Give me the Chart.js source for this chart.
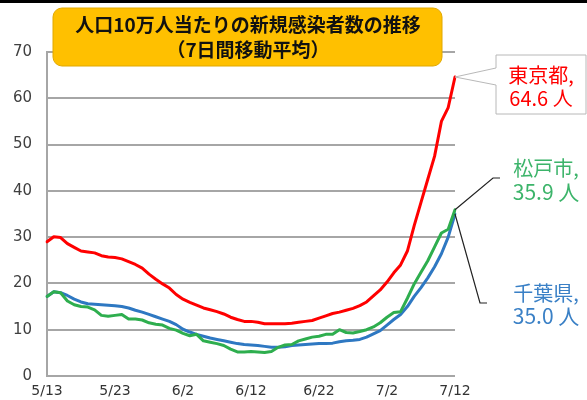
<!DOCTYPE html>
<html>
<head>
<meta charset="utf-8">
<script src="https://cdn.jsdelivr.net/npm/chart.js@4/dist/chart.umd.min.js"></script>
<style>
  html, body { margin: 0; padding: 0; background: #fff; }
  #wrap { width: 587px; height: 400px; position: relative; }
</style>
</head>
<body>
<div id="wrap"><canvas id="chart" width="587" height="400"></canvas></div>
<script>
// 日付 (5/13 - 7/12)
const days = [
  '5/13','5/14','5/15','5/16','5/17','5/18','5/19','5/20','5/21','5/22',
  '5/23','5/24','5/25','5/26','5/27','5/28','5/29','5/30','5/31','6/1',
  '6/2','6/3','6/4','6/5','6/6','6/7','6/8','6/9','6/10','6/11',
  '6/12','6/13','6/14','6/15','6/16','6/17','6/18','6/19','6/20','6/21',
  '6/22','6/23','6/24','6/25','6/26','6/27','6/28','6/29','6/30','7/1',
  '7/2','7/3','7/4','7/5','7/6','7/7','7/8','7/9','7/10','7/11',
  '7/12'
];

// 人口10万人当たり新規感染者数 (7日間移動平均)
const tokyo = [
  29.0, 30.1, 29.9, 28.6, 27.8, 27.0, 26.8, 26.6, 26.0, 25.7,
  25.6, 25.3, 24.7, 24.1, 23.3, 22.0, 20.9, 19.9, 19.0, 17.6,
  16.6, 15.9, 15.3, 14.7, 14.3, 13.9, 13.4, 12.7, 12.2, 11.8,
  11.8, 11.6, 11.3, 11.3, 11.3, 11.3, 11.4, 11.6, 11.8, 12.0,
  12.5, 13.0, 13.5, 13.8, 14.2, 14.6, 15.2, 16.0, 17.3, 18.6,
  20.3, 22.3, 24.0, 27.0, 32.5, 37.5, 42.5, 47.5, 55.0, 58.0,
  64.6
];
const matsudo = [
  17.2, 18.2, 18.0, 16.2, 15.4, 15.0, 14.9, 14.3, 13.1, 12.9,
  13.1, 13.3, 12.3, 12.3, 12.1, 11.5, 11.2, 11.0, 10.3, 9.9,
  9.2, 8.7, 9.0, 7.6, 7.3, 7.0, 6.6, 5.8, 5.2, 5.2,
  5.3, 5.2, 5.1, 5.3, 6.2, 6.7, 6.8, 7.6, 8.0, 8.4,
  8.6, 9.0, 9.0, 10.0, 9.4, 9.3, 9.6, 10.0, 10.6, 11.5,
  12.7, 13.7, 13.9, 16.8, 19.9, 22.4, 24.9, 27.9, 30.9, 31.7,
  35.9
];
const chiba = [
  17.2, 18.2, 18.0, 17.4, 16.6, 16.0, 15.6, 15.5, 15.4, 15.3,
  15.2, 15.0, 14.7, 14.2, 13.8, 13.3, 12.8, 12.3, 11.8, 11.1,
  10.1, 9.5, 9.0, 8.6, 8.2, 7.9, 7.6, 7.3, 7.0, 6.8,
  6.7, 6.6, 6.4, 6.2, 6.2, 6.3, 6.6, 6.7, 6.8, 6.9,
  7.0, 7.0, 7.1, 7.4, 7.6, 7.7, 7.9, 8.4, 9.1, 9.8,
  11.0, 12.2, 13.3, 15.0, 17.2, 19.1, 21.2, 23.6, 26.4, 30.0,
  35.0
];

const yTicks = [0, 10, 20, 30, 40, 50, 60, 70];
const titleLines = ['人口10万人当たりの新規感染者数の推移', '（7日間移動平均）'];
const calloutText = {
  tokyo: ['東京都,', '64.6 人'],
  matsudo: ['松戸市,', '35.9 人'],
  chiba: ['千葉県,', '35.0 人']
};

const RED = '#ff0000';
const GREEN = '#2eae4e';
const BLUE = '#2e78c2';
const JP = '"Noto Sans CJK JP", "Noto Sans", sans-serif';

const overlay = {
  id: 'overlay',
  beforeDraw(chart) {
    const ctx = chart.ctx;
    ctx.save();
    ctx.fillStyle = '#000';
    ctx.fillRect(0, 0, chart.width, 3);
    ctx.restore();
  },
  afterDatasetsDraw(chart) {
    const ctx = chart.ctx;
    const xs = chart.scales.x, ys = chart.scales.y;
    const last = days.length - 1;
    const ex = xs.getPixelForValue(last);
    const tY = ys.getPixelForValue(tokyo[last]);
    const mY = ys.getPixelForValue(matsudo[last]);
    const cY = ys.getPixelForValue(chiba[last]);

    ctx.save();
    // タイトルボックス
    ctx.beginPath();
    ctx.roundRect(53, 8, 389, 58, 9);
    ctx.fillStyle = '#ffc000';
    ctx.fill();
    ctx.lineWidth = 1;
    ctx.strokeStyle = '#e0a800';
    ctx.stroke();
    ctx.fillStyle = '#111';
    ctx.font = 'bold 19px ' + JP;
    ctx.textAlign = 'center';
    ctx.textBaseline = 'middle';
    ctx.fillText(titleLines[0], 248, 25);
    ctx.fillText(titleLines[1], 248, 50);

    // 東京都 吹き出し
    ctx.beginPath();
    ctx.moveTo(496, 55);
    ctx.lineTo(586, 55);
    ctx.lineTo(586, 114);
    ctx.lineTo(496, 114);
    ctx.lineTo(496, 85);
    ctx.lineTo(ex, tY);
    ctx.lineTo(496, 68);
    ctx.closePath();
    ctx.fillStyle = '#fff';
    ctx.fill();
    ctx.strokeStyle = '#b8b8b8';
    ctx.lineWidth = 1;
    ctx.stroke();
    ctx.fillStyle = RED;
    ctx.font = '20px ' + JP;
    ctx.fillText(calloutText.tokyo[0], 541, 75);
    ctx.fillText(calloutText.tokyo[1], 541, 98);

    // 引き出し線
    ctx.strokeStyle = '#222';
    ctx.lineWidth = 1.2;
    ctx.beginPath();
    ctx.moveTo(ex, mY);
    ctx.lineTo(493, 178);
    ctx.lineTo(500, 178);
    ctx.stroke();
    ctx.beginPath();
    ctx.moveTo(ex, cY);
    ctx.lineTo(480, 303);
    ctx.lineTo(487, 303);
    ctx.stroke();

    ctx.fillStyle = '#3cb46a';
    ctx.fillText(calloutText.matsudo[0], 546, 168);
    ctx.font = '21px ' + JP;
    ctx.fillText(calloutText.matsudo[1], 546, 192);
    ctx.fillStyle = '#3a80c6';
    ctx.font = '20px ' + JP;
    ctx.fillText(calloutText.chiba[0], 546, 293);
    ctx.font = '21px ' + JP;
    ctx.fillText(calloutText.chiba[1], 546, 316);
    ctx.restore();
  }
};

const line = (label, data, color) => ({
  label, data,
  borderColor: color,
  borderWidth: 3,
  pointRadius: 0,
  tension: 0,
  fill: false,
  borderJoinStyle: 'round',
  borderCapStyle: 'round'
});

new Chart(document.getElementById('chart'), {
  type: 'line',
  data: {
    labels: days,
    datasets: [
      line('東京都', tokyo, RED),
      line('松戸市', matsudo, GREEN),
      line('千葉県', chiba, BLUE)
    ]
  },
  options: {
    responsive: false,
    animation: false,
    devicePixelRatio: 1,
    layout: { padding: { top: 52, right: 132, bottom: 0, left: 0 } },
    plugins: {
      legend: { display: false },
      tooltip: { enabled: false }
    },
    scales: {
      x: {
        offset: false,
        afterFit: s => { s.height = 22; },
        grid: { display: false, drawTicks: false },
        border: { display: false },
        ticks: {
          autoSkip: false,
          maxRotation: 0,
          padding: 7,
          color: '#333',
          font: { family: '"DejaVu Sans", sans-serif', size: 14 },
          callback: (v, i) => (i % 10 === 0 ? days[i] : null)
        }
      },
      y: {
        min: yTicks[0],
        max: yTicks[yTicks.length - 1],
        afterFit: s => { s.width = 47; },
        afterBuildTicks: s => { s.ticks = yTicks.map(v => ({ value: v })); },
        grid: { color: '#a6a6a6', lineWidth: 2, drawTicks: false },
        border: { color: '#a6a6a6', width: 2 },
        ticks: {
          padding: 15,
          color: '#404040',
          font: { family: '"DejaVu Sans", sans-serif', size: 15 }
        }
      }
    }
  },
  plugins: [overlay]
});
</script>
</body>
</html>
